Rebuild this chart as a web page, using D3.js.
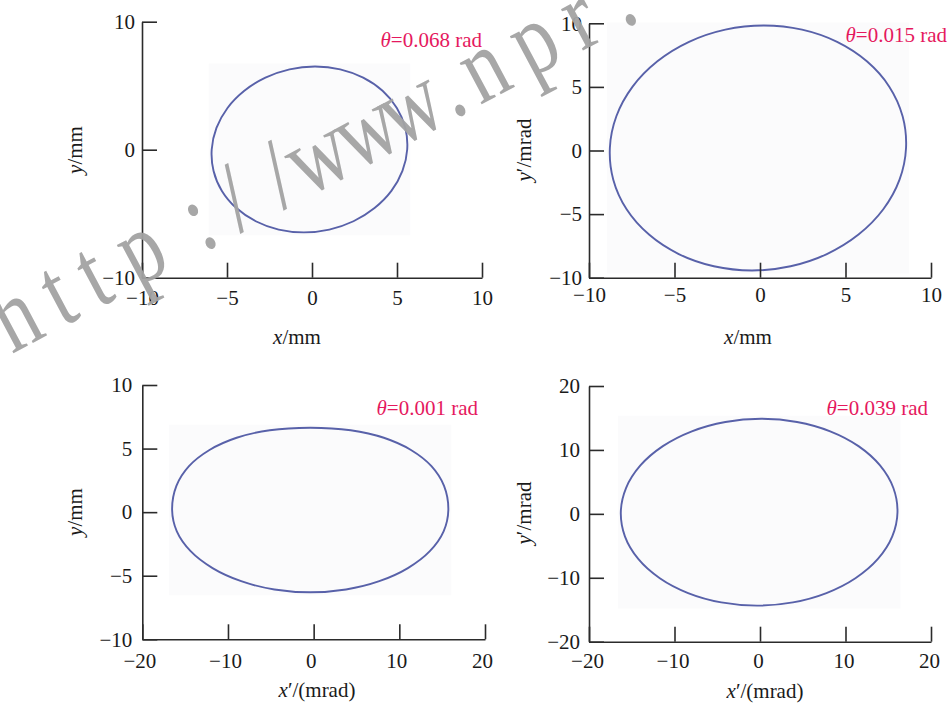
<!DOCTYPE html>
<html>
<head>
<meta charset="utf-8">
<script src="https://cdn.jsdelivr.net/npm/d3@7/dist/d3.min.js"></script>
<style>
  html, body { margin: 0; padding: 0; background: #fff; }
  svg text { font-family: "Liberation Serif", "Times New Roman", serif; }
</style>
</head>
<body>
<svg id="chart" width="948" height="705"></svg>
<script>
// ---------------- DATA ----------------
// phase-space contour points (x, y) of each panel
const ellipse1 = [[5.60,0.02],[5.49,1.70],[4.99,3.26],[4.15,4.60],[3.01,5.63],[1.66,6.28],[0.18,6.50],[-1.32,6.28],[-2.74,5.63],[-3.98,4.60],[-4.97,3.26],[-5.62,1.70],[-5.90,0.02],[-5.79,-1.66],[-5.30,-3.22],[-4.45,-4.56],[-3.31,-5.59],[-1.96,-6.24],[-0.48,-6.46],[1.02,-6.24],[2.44,-5.59],[3.68,-4.56],[4.67,-3.22],[5.32,-1.66]];
const ellipse2 = [[8.54,0.2],[8.34,2.69],[7.56,5.02],[6.25,7.01],[4.51,8.54],[2.46,9.50],[0.23,9.83],[-2.03,9.50],[-4.15,8.54],[-6.00,7.01],[-7.45,5.02],[-8.40,2.69],[-8.78,0.2],[-8.58,-2.29],[-7.80,-4.62],[-6.49,-6.61],[-4.75,-8.14],[-2.70,-9.10],[-0.47,-9.43],[1.79,-9.10],[3.91,-8.14],[5.76,-6.61],[7.21,-4.62],[8.16,-2.29]];
const ellipse3 = [[15.72,0.17],[15.22,2.07],[13.75,3.62],[11.36,4.89],[8.19,5.85],[4.32,6.44],[-0.4,6.64],[-5.12,6.44],[-8.99,5.85],[-12.16,4.89],[-14.55,3.62],[-16.02,2.07],[-16.52,0.17],[-15.97,-1.51],[-14.36,-3.07],[-11.80,-4.40],[-8.46,-5.43],[-4.58,-6.08],[-0.4,-6.30],[3.78,-6.08],[7.66,-5.43],[11.00,-4.40],[13.56,-3.07],[15.17,-1.51]];
const ellipse4 = [[16.08,0.26],[15.60,4.04],[14.04,7.57],[11.52,10.59],[8.21,12.91],[4.33,14.37],[0.15,14.87],[-4.05,14.37],[-7.97,12.91],[-11.36,10.59],[-13.99,7.57],[-15.67,4.04],[-16.28,0.26],[-15.80,-3.52],[-14.24,-7.05],[-11.72,-10.07],[-8.41,-12.39],[-4.53,-13.85],[-0.35,-14.35],[3.85,-13.85],[7.77,-12.39],[11.16,-10.07],[13.79,-7.05],[15.47,-3.52]];

const xDomains = [[-10,10],[-10,10],[-20,20],[-20,20]];
const yDomains = [[-10,10],[-10,10],[-10,10],[-20,20]];
const xTicks = [[-10,-5,0,5,10],[-10,-5,0,5,10],[-20,-10,0,10,20],[-20,-10,0,10,20]];
const yTicks = [[-10,0,10],[-10,-5,0,5,10],[-10,-5,0,5,10],[-20,-10,0,10,20]];
const thetaValues = ["0.068","0.015","0.001","0.039"];
const xTitles = [["x","/mm"],["x","/mm"],["x","′/(mrad)"],["x","′/(mrad)"]];
const yTitles = [["y","/mm"],["y","′/mrad"],["y","/mm"],["y","′/mrad"]];
const watermark = "http://www.npr.com.cn";

// ---------------- LAYOUT ----------------
const layout = [
  {x0:142, x1:482, y0:21.7, y1:277.7, xpad:12.4, ypad:7, xdx:0,
   xt:[297,344], yt:[82,150], th:[482,47]},
  {x0:589, x1:931, y0:23.3, y1:277.7, xpad:9.4, ypad:7, xdx:0,
   xt:[748,344], yt:[531,150], th:[947,42]},
  {x0:142.3, x1:485, y0:385, y1:639.3, xpad:13.8, ypad:10, xdx:-3,
   xt:[317,697], yt:[82,512], th:[478,415]},
  {x0:589, x1:931, y0:386, y1:641.7, xpad:11.6, ypad:9, xdx:-2,
   xt:[765,698], yt:[531,513], th:[928,415]}
];
// glyph start offsets of the watermark along its slanted baseline (unscaled px)
const wmOffsets = [0,57,97,142,216,258,307,333,388,438,500,530,587,645,693,742,795,865,890,935,985];
const wmScaleX = 0.8;
const curves = [ellipse1, ellipse2, ellipse3, ellipse4];

const svg = d3.select("#chart");
svg.append("rect").attr("width",948).attr("height",705).attr("fill","#fff");

const FS = 21;
const axisColor = "#2b2b2b";

layout.forEach((L, i) => {
  const g = svg.append("g");
  const x = d3.scaleLinear().domain(xDomains[i]).range([L.x0, L.x1]);
  const y = d3.scaleLinear().domain(yDomains[i]).range([L.y1, L.y0]);
  const pts = curves[i];

  const ex = d3.extent(pts, d => d[0]), ey = d3.extent(pts, d => d[1]);
  g.append("rect")
    .attr("x", x(ex[0]) - 3).attr("y", y(ey[1]) - 3)
    .attr("width", x(ex[1]) - x(ex[0]) + 6)
    .attr("height", y(ey[0]) - y(ey[1]) + 6)
    .attr("fill", "#fbfbfc");

  g.append("path").datum(pts)
    .attr("d", d3.line().x(d => x(d[0])).y(d => y(d[1])).curve(d3.curveCatmullRomClosed))
    .attr("fill", "none").attr("stroke", "#5861a9").attr("stroke-width", 1.9);

  const ax = d3.axisBottom(x).tickValues(xTicks[i]).tickSizeInner(-15).tickSizeOuter(0).tickPadding(L.xpad);
  const gx = g.append("g").attr("transform", `translate(0,${L.y1})`).call(ax);
  const ay = d3.axisLeft(y).tickValues(yTicks[i]).tickSizeInner(-15).tickSizeOuter(0).tickPadding(L.ypad);
  const gy = g.append("g").attr("transform", `translate(${L.x0},0)`).call(ay);
  [gx, gy].forEach(a => {
    a.select(".domain").attr("stroke", axisColor).attr("stroke-width", 1.6);
    a.selectAll(".tick line").attr("stroke", axisColor).attr("stroke-width", 1.6);
    a.selectAll(".tick text").attr("fill", "#1a1a1a").style("font-size", FS + "px")
      .style("font-family", '"Liberation Serif", "Times New Roman", serif');
  });
  gx.selectAll(".tick text").attr("dx", L.xdx);

  const xt = g.append("text").attr("x", L.xt[0]).attr("y", L.xt[1])
    .attr("text-anchor", "middle").style("font-size", FS + "px").attr("fill", "#1a1a1a");
  xt.append("tspan").style("font-style", "italic").text(xTitles[i][0]);
  xt.append("tspan").text(xTitles[i][1]);

  const yt = g.append("text")
    .attr("transform", `translate(${L.yt[0]},${L.yt[1]}) rotate(-90)`)
    .attr("text-anchor", "middle").style("font-size", FS + "px").attr("fill", "#1a1a1a");
  yt.append("tspan").style("font-style", "italic").text(yTitles[i][0]);
  yt.append("tspan").text(yTitles[i][1]);

  const th = g.append("text").attr("x", L.th[0]).attr("y", L.th[1])
    .attr("text-anchor", "end").style("font-size", FS + "px").attr("fill", "#e5195e");
  th.append("tspan").style("font-style", "italic").text("θ");
  th.append("tspan").text("=" + thetaValues[i] + " rad");
});

// watermark (one text, glyphs spaced along a slanted baseline)
svg.append("text")
  .attr("transform", `translate(12,354) rotate(-28) scale(${wmScaleX},1)`)
  .attr("x", wmOffsets.slice(0, watermark.length).map(v => (v / wmScaleX).toFixed(1)).join(" "))
  .style("font-size", "102px")
  .attr("fill", "#a3a3a3")
  .attr("opacity", 0.95)
  .text(watermark);
</script>
</body>
</html>
